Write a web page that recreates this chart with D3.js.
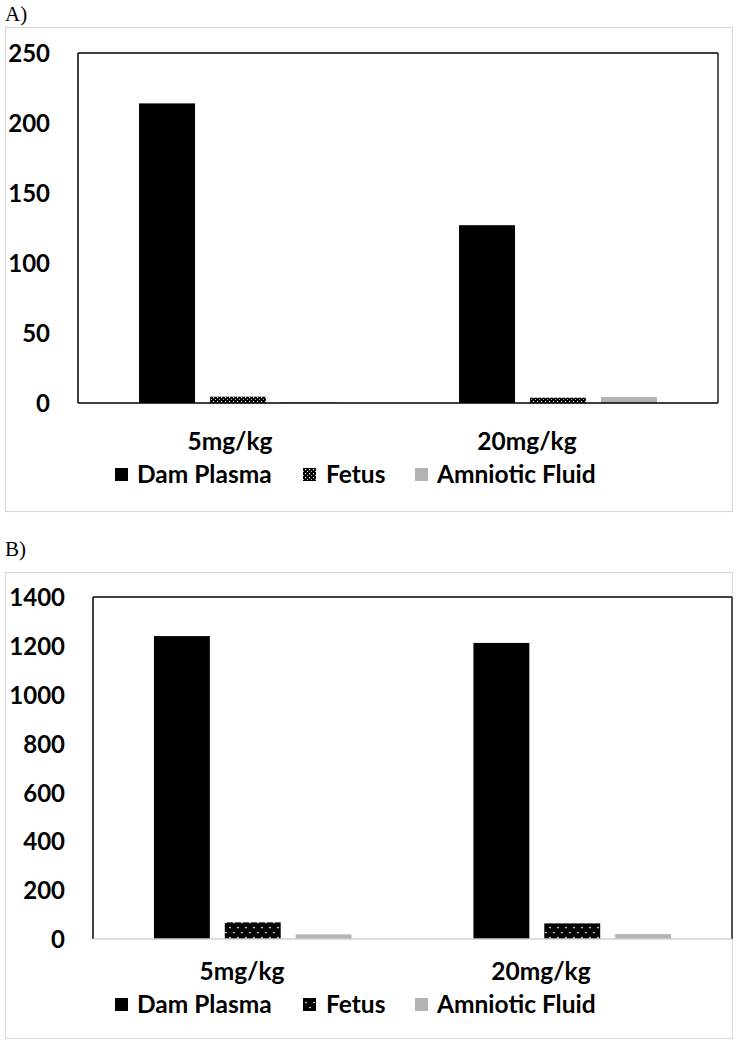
<!DOCTYPE html>
<html><head><meta charset="utf-8">
<script src="https://cdn.jsdelivr.net/npm/d3@7"></script>
<style>body{margin:0;background:#fff}svg{display:block}</style>
</head><body>
<svg id="c" width="744" height="1050"></svg>
<script>
const categories = ["5mg/kg", "20mg/kg"];
const seriesNames = ["Dam Plasma", "Fetus", "Amniotic Fluid"];
const damA = [214, 127];
const fetusA = [4.5, 3.8];
const amnioticA = [0.6, 4.3];
const damB = [1240, 1212];
const fetusB = [68, 64];
const amnioticB = [19, 20];
const ticksA = [0, 50, 100, 150, 200, 250];
const ticksB = [0, 200, 400, 600, 800, 1000, 1200, 1400];

const svg = d3.select("#c");
const defs = svg.append("defs");
const pA = defs.append("pattern").attr("id","patA").attr("patternUnits","userSpaceOnUse").attr("width",4).attr("height",4);
pA.append("rect").attr("width",4).attr("height",4).attr("fill","#000");
pA.append("rect").attr("x",1).attr("y",1).attr("width",1.2).attr("height",1.2).attr("fill","#fff");
pA.append("rect").attr("x",3).attr("y",3).attr("width",1).attr("height",1).attr("fill","#bbb");
const pB = defs.append("pattern").attr("id","patB").attr("patternUnits","userSpaceOnUse").attr("width",8).attr("height",10);
pB.append("rect").attr("width",8).attr("height",10).attr("fill","#000");
pB.append("circle").attr("cx",2).attr("cy",2.5).attr("r",0.85).attr("fill","#fff");
pB.append("circle").attr("cx",6).attr("cy",7.5).attr("r",0.85).attr("fill","#fff");

const font = "Lato, 'Open Sans', sans-serif";

function panel(cfg){
  const g = svg.append("g");
  g.append("text").attr("x",5).attr("y",cfg.letterY).attr("font-family","'Liberation Serif', serif")
    .attr("font-size",21).attr("fill","#000").text(cfg.letter);
  g.append("rect").attr("x",5.5).attr("y",cfg.frame[0]+0.5).attr("width",727).attr("height",cfg.frame[1]-cfg.frame[0])
    .attr("fill","none").attr("stroke","#d9d9d9").attr("stroke-width",1.2);

  const x0 = d3.scaleBand().domain(categories).range([cfg.left, cfg.right]);
  const x1 = d3.scaleBand().domain(seriesNames).range([0, x0.bandwidth()]).paddingInner(0.211).paddingOuter(0.86);
  const y = d3.scaleLinear().domain([0, cfg.max]).range([cfg.bottom, cfg.top]);

  const ya = d3.axisLeft(y).tickValues(cfg.ticks).tickFormat(d3.format("d")).tickSize(0).tickPadding(0);
  const ag = g.append("g").attr("transform",`translate(${cfg.labelX},0)`).call(ya);
  ag.select(".domain").remove();
  ag.selectAll("text").attr("font-family",font).attr("font-weight","bold").attr("font-size",24).attr("fill","#000").attr("dy","0.36em");

  const series = [cfg.dam, cfg.fetus, cfg.amn];
  const fills = ["#000", cfg.pat, "#b3b3b3"];
  categories.forEach((c,i)=>{
    seriesNames.forEach((s,j)=>{
      g.append("rect").attr("x",x0(c)+x1(s)).attr("width",x1.bandwidth())
        .attr("y",y(series[j][i])).attr("height",cfg.bottom - y(series[j][i]))
        .attr("fill",fills[j]);
    });
  });

  g.append("line").attr("x1",cfg.left).attr("x2",cfg.left).attr("y1",cfg.top).attr("y2",cfg.bottom).attr("stroke","#000").attr("stroke-width",1.5);
  g.append("line").attr("x1",cfg.left).attr("x2",cfg.right).attr("y1",cfg.top).attr("y2",cfg.top).attr("stroke","#000").attr("stroke-width",1.5);
  g.append("line").attr("x1",cfg.right).attr("x2",cfg.right).attr("y1",cfg.top).attr("y2",cfg.bottom).attr("stroke","#222").attr("stroke-width",1.5);
  g.append("line").attr("x1",cfg.left).attr("x2",cfg.right).attr("y1",cfg.bottom).attr("y2",cfg.bottom).attr("stroke",cfg.baseColor).attr("stroke-width",1.5);

  const xl = d3.scalePoint().domain(categories).range(cfg.catLabelRange);
  categories.forEach(c=>{
    g.append("text").attr("x",xl(c)).attr("y",cfg.catY).attr("text-anchor","middle")
      .attr("font-family",font).attr("font-weight","bold").attr("font-size",24.5).attr("fill","#000").text(c);
  });

  const legX = [115, 303, 415];
  const txtX = [137, 326, 437];
  seriesNames.forEach((s,j)=>{
    g.append("rect").attr("x",legX[j]).attr("y",cfg.legY-15).attr("width",13).attr("height",13).attr("fill",fills[j]);
    g.append("text").attr("x",txtX[j]).attr("y",cfg.legY).attr("font-family",font).attr("font-weight","bold")
      .attr("font-size",24.5).attr("fill","#000").text(s);
  });
}

panel({letter:"A)", letterY:21, frame:[27,511], left:78, right:718, top:53, bottom:403, max:250, ticks:ticksA,
  labelX:50, dam:damA, fetus:fetusA, amn:amnioticA, pat:"url(#patA)", baseColor:"#000",
  catLabelRange:[230,527], catY:450, legY:483});
panel({letter:"B)", letterY:556, frame:[572,1038], left:93, right:732, top:597, bottom:939, max:1400, ticks:ticksB,
  labelX:65, dam:damB, fetus:fetusB, amn:amnioticB, pat:"url(#patB)", baseColor:"#d0d0d0",
  catLabelRange:[242,541], catY:980, legY:1013});
</script>
</body></html>
